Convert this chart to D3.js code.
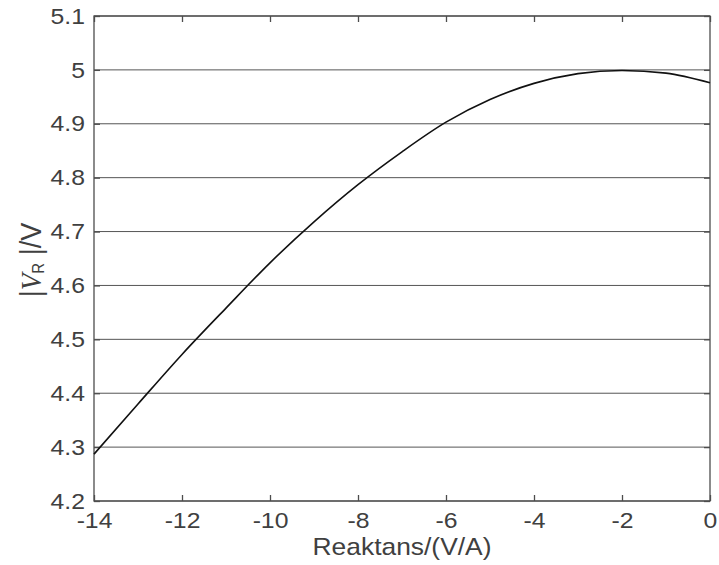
<!DOCTYPE html>
<html>
<head>
<meta charset="utf-8">
<script src="https://cdn.jsdelivr.net/npm/d3@7"></script>
<style>
  body { margin: 0; background: #fff; }
  text { font-family: "Liberation Sans", Arial, sans-serif; fill: #404040; }
</style>
</head>
<body>
<div id="chart"></div>
<script>
// reactance (V/A) and |V_R| (V)
var reaktans = [-14, -13, -12, -11, -10, -9, -8, -7, -6, -5, -4, -3, -2, -1, 0];
var vr = [4.287, 4.380, 4.472, 4.558, 4.642, 4.718, 4.787, 4.848, 4.903, 4.945, 4.975, 4.993, 4.999, 4.994, 4.976];
var xTicks = [-14, -12, -10, -8, -6, -4, -2, 0];
var yTicks = [4.2, 4.3, 4.4, 4.5, 4.6, 4.7, 4.8, 4.9, 5, 5.1];

var width = 719, height = 565;
var margin = { top: 16, right: 9, bottom: 64, left: 94 };
var w = width - margin.left - margin.right;
var h = height - margin.top - margin.bottom;
var stretch = 1.1; // the reference text is drawn a little wide

var svg = d3.select('#chart').append('svg')
    .attr('width', width)
    .attr('height', height);

var g = svg.append('g')
    .attr('transform', 'translate(' + margin.left + ',' + margin.top + ')');

var x = d3.scaleLinear().domain([-14, 0]).range([0, w]);
var y = d3.scaleLinear().domain([4.2, 5.1]).range([h, 0]);

// horizontal grid
g.selectAll('.grid')
    .data(yTicks)
  .enter().append('line')
    .attr('class', 'grid')
    .attr('x1', 0).attr('x2', w)
    .attr('y1', function(d) { return y(d); })
    .attr('y2', function(d) { return y(d); })
    .attr('stroke', '#555')
    .attr('stroke-width', 1);

var tickLen = 6;
var fmt = function(d) { return String(+d.toFixed(1)); };

var axisStyle = function(sel) {
    sel.attr('font-size', null).attr('font-family', null);
    sel.select('.domain').remove();
    sel.selectAll('.tick line').attr('stroke', '#4d4d4d').attr('stroke-width', 1.3);
    sel.selectAll('.tick text')
        .style('font-size', '22.5px')
        .attr('fill', '#404040')
        .attr('transform', 'scale(' + stretch + ',1)');
};

g.append('g')
    .attr('transform', 'translate(0,' + h + ')')
    .call(d3.axisBottom(x).tickValues(xTicks).tickSize(-tickLen).tickPadding(11).tickFormat(fmt))
    .call(axisStyle);
g.append('g')
    .call(d3.axisTop(x).tickValues(xTicks).tickSize(-tickLen).tickFormat(''))
    .call(axisStyle);
g.append('g')
    .call(d3.axisLeft(y).tickValues(yTicks).tickSize(-tickLen).tickFormat(fmt))
    .call(axisStyle)
    .selectAll('.tick text').attr('x', -9 / stretch);
g.append('g')
    .attr('transform', 'translate(' + w + ',0)')
    .call(d3.axisRight(y).tickValues(yTicks).tickSize(-tickLen).tickFormat(''))
    .call(axisStyle);

// box
g.append('rect')
    .attr('width', w).attr('height', h)
    .attr('fill', 'none')
    .attr('stroke', '#4d4d4d')
    .attr('stroke-width', 1.3);

var line = d3.line()
    .x(function(d, i) { return x(reaktans[i]); })
    .y(function(d) { return y(d); })
    .curve(d3.curveMonotoneX);

g.append('path')
    .datum(vr)
    .attr('d', line)
    .attr('fill', 'none')
    .attr('stroke', '#111')
    .attr('stroke-width', 1.6);

// axis labels
svg.append('text')
    .attr('transform', 'translate(402,555) scale(' + stretch + ',1)')
    .attr('text-anchor', 'middle')
    .style('font-size', '24px')
    .text('Reaktans/(V/A)');

var yl = svg.append('text')
    .attr('transform', 'translate(41,' + 260 + ') scale(' + stretch + ',1) rotate(-90)')
    .attr('text-anchor', 'middle')
    .style('font-size', '27px');
yl.append('tspan').text('|');
yl.append('tspan').text('V')
    .style('font-family', '"Liberation Serif", "Times New Roman", serif')
    .style('font-style', 'italic');
yl.append('tspan').text('R').attr('dy', 3).style('font-size', '15px');
yl.append('tspan').text(' |').attr('dy', -3);
yl.append('tspan').text('/V');
</script>
</body>
</html>
